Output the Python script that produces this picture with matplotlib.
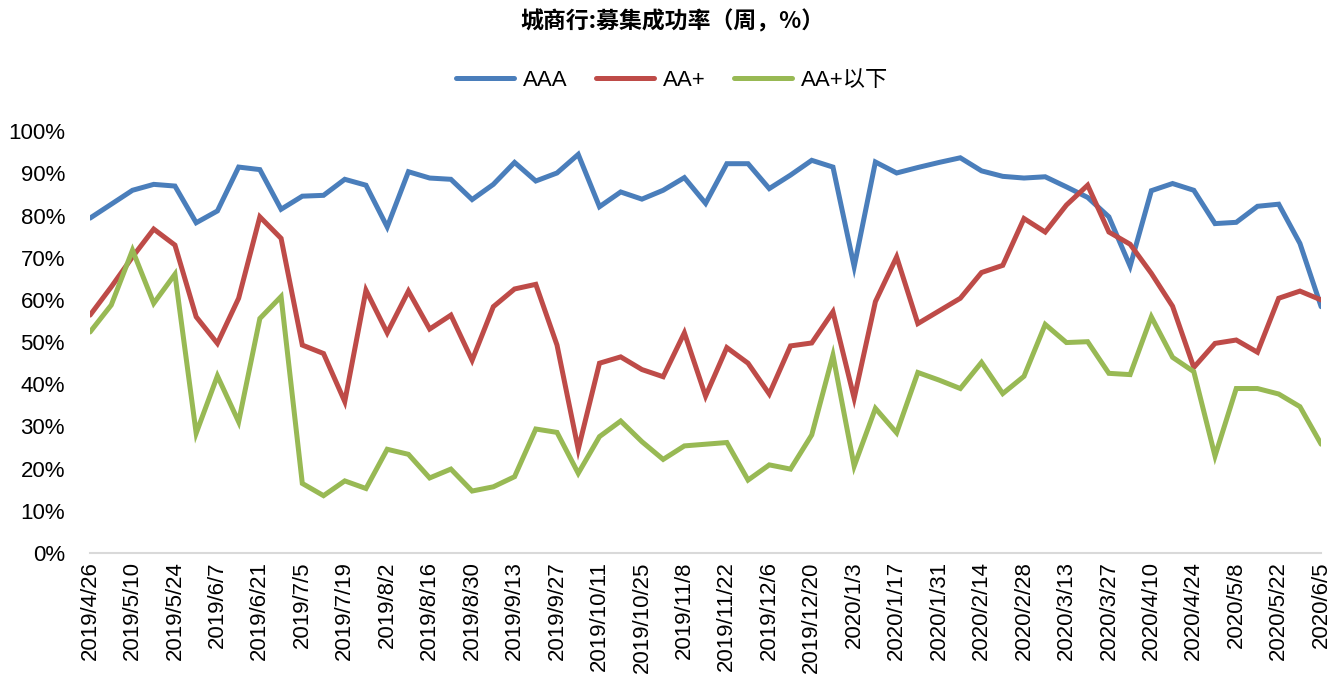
import matplotlib
matplotlib.use("Agg")
import matplotlib.pyplot as plt

plt.rcParams['font.family'] = ['Liberation Sans', 'Noto Sans CJK SC']

# weekly dates, 2019/4/26 .. 2020/6/5
dates = ["2019/4/26", "2019/5/3", "2019/5/10", "2019/5/17", "2019/5/24", "2019/5/31",
         "2019/6/7", "2019/6/14", "2019/6/21", "2019/6/28", "2019/7/5", "2019/7/12",
         "2019/7/19", "2019/7/26", "2019/8/2", "2019/8/9", "2019/8/16", "2019/8/23",
         "2019/8/30", "2019/9/6", "2019/9/13", "2019/9/20", "2019/9/27", "2019/10/4",
         "2019/10/11", "2019/10/18", "2019/10/25", "2019/11/1", "2019/11/8", "2019/11/15",
         "2019/11/22", "2019/11/29", "2019/12/6", "2019/12/13", "2019/12/20", "2019/12/27",
         "2020/1/3", "2020/1/10", "2020/1/17", "2020/1/24", "2020/1/31", "2020/2/7",
         "2020/2/14", "2020/2/21", "2020/2/28", "2020/3/6", "2020/3/13", "2020/3/20",
         "2020/3/27", "2020/4/3", "2020/4/10", "2020/4/17", "2020/4/24", "2020/5/1",
         "2020/5/8", "2020/5/15", "2020/5/22", "2020/5/29", "2020/6/5"]

aaa = [79.4, 82.7, 86.0, 87.4, 87.0, 78.3, 81.1, 91.5, 90.9, 81.5,
       84.6, 84.8, 88.6, 87.2, 77.3, 90.4, 88.9, 88.6, 83.8, 87.4,
       92.6, 88.2, 90.1, 94.5, 82.1, 85.6, 83.9, 86.0, 89.0, 82.9,
       92.3, 92.3, 86.4, 89.6, 93.1, 91.5, 67.9, 92.7, 90.1, 91.4,
       92.6, 93.7, 90.6, 89.3, 88.9, 89.2, 86.8, 84.3, 79.7, 68.0,
       85.9, 87.6, 86.0, 78.1, 78.4, 82.2, 82.7, 73.4, 58.4]

aa_plus = [56.4, 63.1, 70.2, 76.8, 73.0, 56.0, 49.7, 60.4, 79.7, 74.6,
           49.3, 47.3, 35.9, 62.3, 52.2, 62.1, 53.1, 56.4, 45.7, 58.4,
           62.6, 63.7, 49.3, 24.6, 45.0, 46.5, 43.5, 41.8, 52.2, 37.2,
           48.7, 45.0, 37.7, 49.1, 49.8, 57.2, 36.7, 59.6, 70.2, 54.4,
           57.4, 60.4, 66.5, 68.2, 79.3, 76.1, 82.5, 87.2, 76.1, 73.2,
           66.3, 58.5, 44.0, 49.7, 50.5, 47.6, 60.4, 62.1, 60.0]

aa_below = [52.4, 58.8, 71.8, 59.2, 66.1, 28.4, 42.0, 31.1, 55.6, 60.8,
            16.5, 13.6, 17.1, 15.3, 24.6, 23.4, 17.8, 19.9, 14.7, 15.7,
            18.1, 29.4, 28.6, 18.9, 27.6, 31.3, 26.4, 22.2, 25.4, 25.8,
            26.2, 17.3, 20.9, 19.9, 28.0, 46.9, 20.6, 34.3, 28.5, 42.8,
            41.0, 39.0, 45.2, 37.8, 41.9, 54.2, 49.9, 50.1, 42.6, 42.3,
            56.0, 46.4, 43.0, 23.0, 39.0, 39.0, 37.7, 34.7, 25.8]

series_names = ["AAA", "AA+", "AA+以下"]
colors = ["#4A7EBB", "#BE4B48", "#98B954"]

fig = plt.figure(figsize=(13.44, 6.87), dpi=100)
ax = fig.add_axes([0.067, 0.195, 0.916, 0.614])

x = list(range(len(dates)))
for vals, name, c in zip([aaa, aa_plus, aa_below], series_names, colors):
    ax.plot(x, [v / 100 for v in vals], color=c, lw=3.6, label=name,
            solid_joinstyle='miter', solid_capstyle='round')

ax.set_xlim(0, len(dates) - 1)
ax.set_ylim(0, 1)
ax.set_yticks([i / 10 for i in range(11)])
ax.set_yticklabels([f"{i * 10}%" for i in range(11)], fontsize=16)
ax.set_xticks(x[::2])
ax.set_xticklabels(dates[::2], rotation=90, fontsize=16)
ax.tick_params(axis='both', length=0, pad=6)
ax.tick_params(axis='y', pad=18)

for s in ['top', 'right', 'left']:
    ax.spines[s].set_visible(False)
ax.spines['bottom'].set_color('#D9D9D9')
ax.spines['bottom'].set_linewidth(1.5)

fig.text(0.5, 0.968, "城商行:募集成功率（周，%）", ha='center', va='center',
         fontsize=16.5, fontweight='bold', family=['Noto Sans CJK SC'])

fig.legend(loc='center', bbox_to_anchor=(0.5, 0.883), ncol=3, frameon=False,
           fontsize=16, handlelength=2.6, columnspacing=1.3, handletextpad=0.4)

fig.savefig("out.png", dpi=100)
